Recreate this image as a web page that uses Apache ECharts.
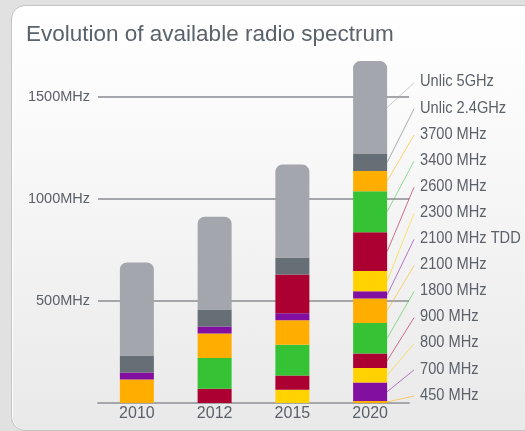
<!DOCTYPE html>
<html>
<head>
<meta charset="utf-8">
<script src="https://cdn.jsdelivr.net/npm/echarts@6/dist/echarts.min.js"></script>
<style>
  html, body { margin: 0; padding: 0; width: 525px; height: 431px; overflow: hidden; background: #e1e1e1; }
  .panel {
    position: absolute; left: 11px; top: 5px; width: 560px; height: 424px;
    border: 1px solid #c4c4c4; border-radius: 14px;
    box-shadow: inset 0 1px 0 #ffffff, inset 1px 0 0 #ffffff;
    background: linear-gradient(to bottom, #ffffff 0%, #fcfcfc 18%, #e9e9e9 100%);
  }
  #chart { position: absolute; left: 0; top: 0; width: 525px; height: 431px; }
</style>
</head>
<body>
<div class="panel"></div>
<div id="chart"></div>
<script>
  const years = ['2010', '2012', '2015', '2020']
  const bands = ['450 MHz', '700 MHz', '800 MHz', '900 MHz', '1800 MHz', '2100 MHz', '2100 MHz TDD',
    '2300 MHz', '2600 MHz', '3400 MHz', '3700 MHz', 'Unlic 2.4GHz', 'Unlic 5GHz']
  const bandColors = ['#ffae00', '#820fa0', '#ffd200', '#ad0032', '#35c335', '#ffae00', '#820fa0',
    '#ffd200', '#ad0032', '#35c335', '#ffae00', '#666e76', '#a3a6ac']
  // MHz per band, per year (2010, 2012, 2015, 2020)
  const mhz450 = [0, 0, 0, 10]
  const mhz700 = [0, 0, 0, 90]
  const mhz800 = [0, 0, 65, 72]
  const mhz900 = [0, 70, 70, 70]
  const mhz1800 = [0, 150, 150, 150]
  const mhz2100 = [115, 120, 120, 120]
  const mhz2100tdd = [35, 35, 35, 35]
  const mhz2300 = [0, 0, 0, 100]
  const mhz2600 = [0, 0, 190, 190]
  const mhz3400 = [0, 0, 0, 200]
  const mhz3700 = [0, 0, 0, 100]
  const unlic24 = [83, 83, 83, 83]
  const unlic5 = [455, 455, 455, 455]
  const yTicks = [0, 500, 1000, 1500]

  const bandValues = [mhz450, mhz700, mhz800, mhz900, mhz1800, mhz2100, mhz2100tdd,
    mhz2300, mhz2600, mhz3400, mhz3700, unlic24, unlic5]

  const font = "'Liberation Sans', Arial, sans-serif"
  const textColor = '#5b6169'
  const barWidth = 34

  // middle of each 2020 segment, used for the leader lines
  const lastIdx = years.length - 1
  let acc = 0
  const leaderData = bandValues.map((vals, i) => {
    const mid = acc + vals[lastIdx] / 2
    acc += vals[lastIdx]
    return [lastIdx, mid, i]
  })

  const chart = echarts.init(document.getElementById('chart'))

  const barSeries = bands.map((name, i) => ({
    name: name,
    type: 'bar',
    stack: 'total',
    barWidth: barWidth,
    data: bandValues[i],
    itemStyle: {
      color: bandColors[i],
      borderRadius: i === bands.length - 1 ? [7, 7, 0, 0] : 0
    },
    emphasis: { disabled: true }
  }))

  const option = {
    backgroundColor: 'transparent',
    animation: false,
    title: {
      text: 'Evolution of available radio spectrum',
      left: 21,
      top: 18,
      textStyle: { fontFamily: font, fontSize: 22.5, fontWeight: 'normal', color: '#5a626b' }
    },
    grid: { left: 98, width: 311, top: 56, bottom: 28 },
    xAxis: {
      type: 'category',
      data: years,
      axisTick: { show: false },
      axisLine: { lineStyle: { color: '#a4a6aa', width: 2 } },
      axisLabel: { fontFamily: font, fontSize: 16, color: textColor, margin: 3 }
    },
    yAxis: {
      type: 'value',
      min: 0,
      max: 1700,
      interval: 500,
      axisLine: { show: false },
      axisTick: { show: false },
      axisLabel: {
        fontFamily: font, fontSize: 14.5, color: textColor, margin: 8,
        showMinLabel: false, showMaxLabel: false,
        formatter: v => yTicks.includes(v) ? v + 'MHz' : ''
      },
      splitLine: { showMinLine: false, showMaxLine: false, lineStyle: { color: '#a4a6aa', width: 2 } }
    },
    series: barSeries.concat([{
      type: 'custom',
      coordinateSystem: 'cartesian2d',
      silent: true,
      clip: false,
      z: 5,
      data: leaderData,
      renderItem: function (params, api) {
        const p = api.coord([api.value(0), api.value(1)])
        const i = api.value(2)
        const labelY = 395 - i * 26.1
        return {
          type: 'group',
          children: [
            {
              type: 'line',
              shape: { x1: p[0] + barWidth / 2, y1: p[1], x2: 414, y2: labelY + 1 },
              style: { stroke: bandColors[i], lineWidth: 1, opacity: 0.55 }
            },
            {
              type: 'text',
              x: 420,
              y: labelY,
              scaleX: 0.86,
              style: {
                text: bands[i], fill: textColor, font: '17px ' + font,
                verticalAlign: 'middle', align: 'left'
              }
            }
          ]
        }
      }
    }])
  }
  chart.setOption(option)
</script>
</body>
</html>
